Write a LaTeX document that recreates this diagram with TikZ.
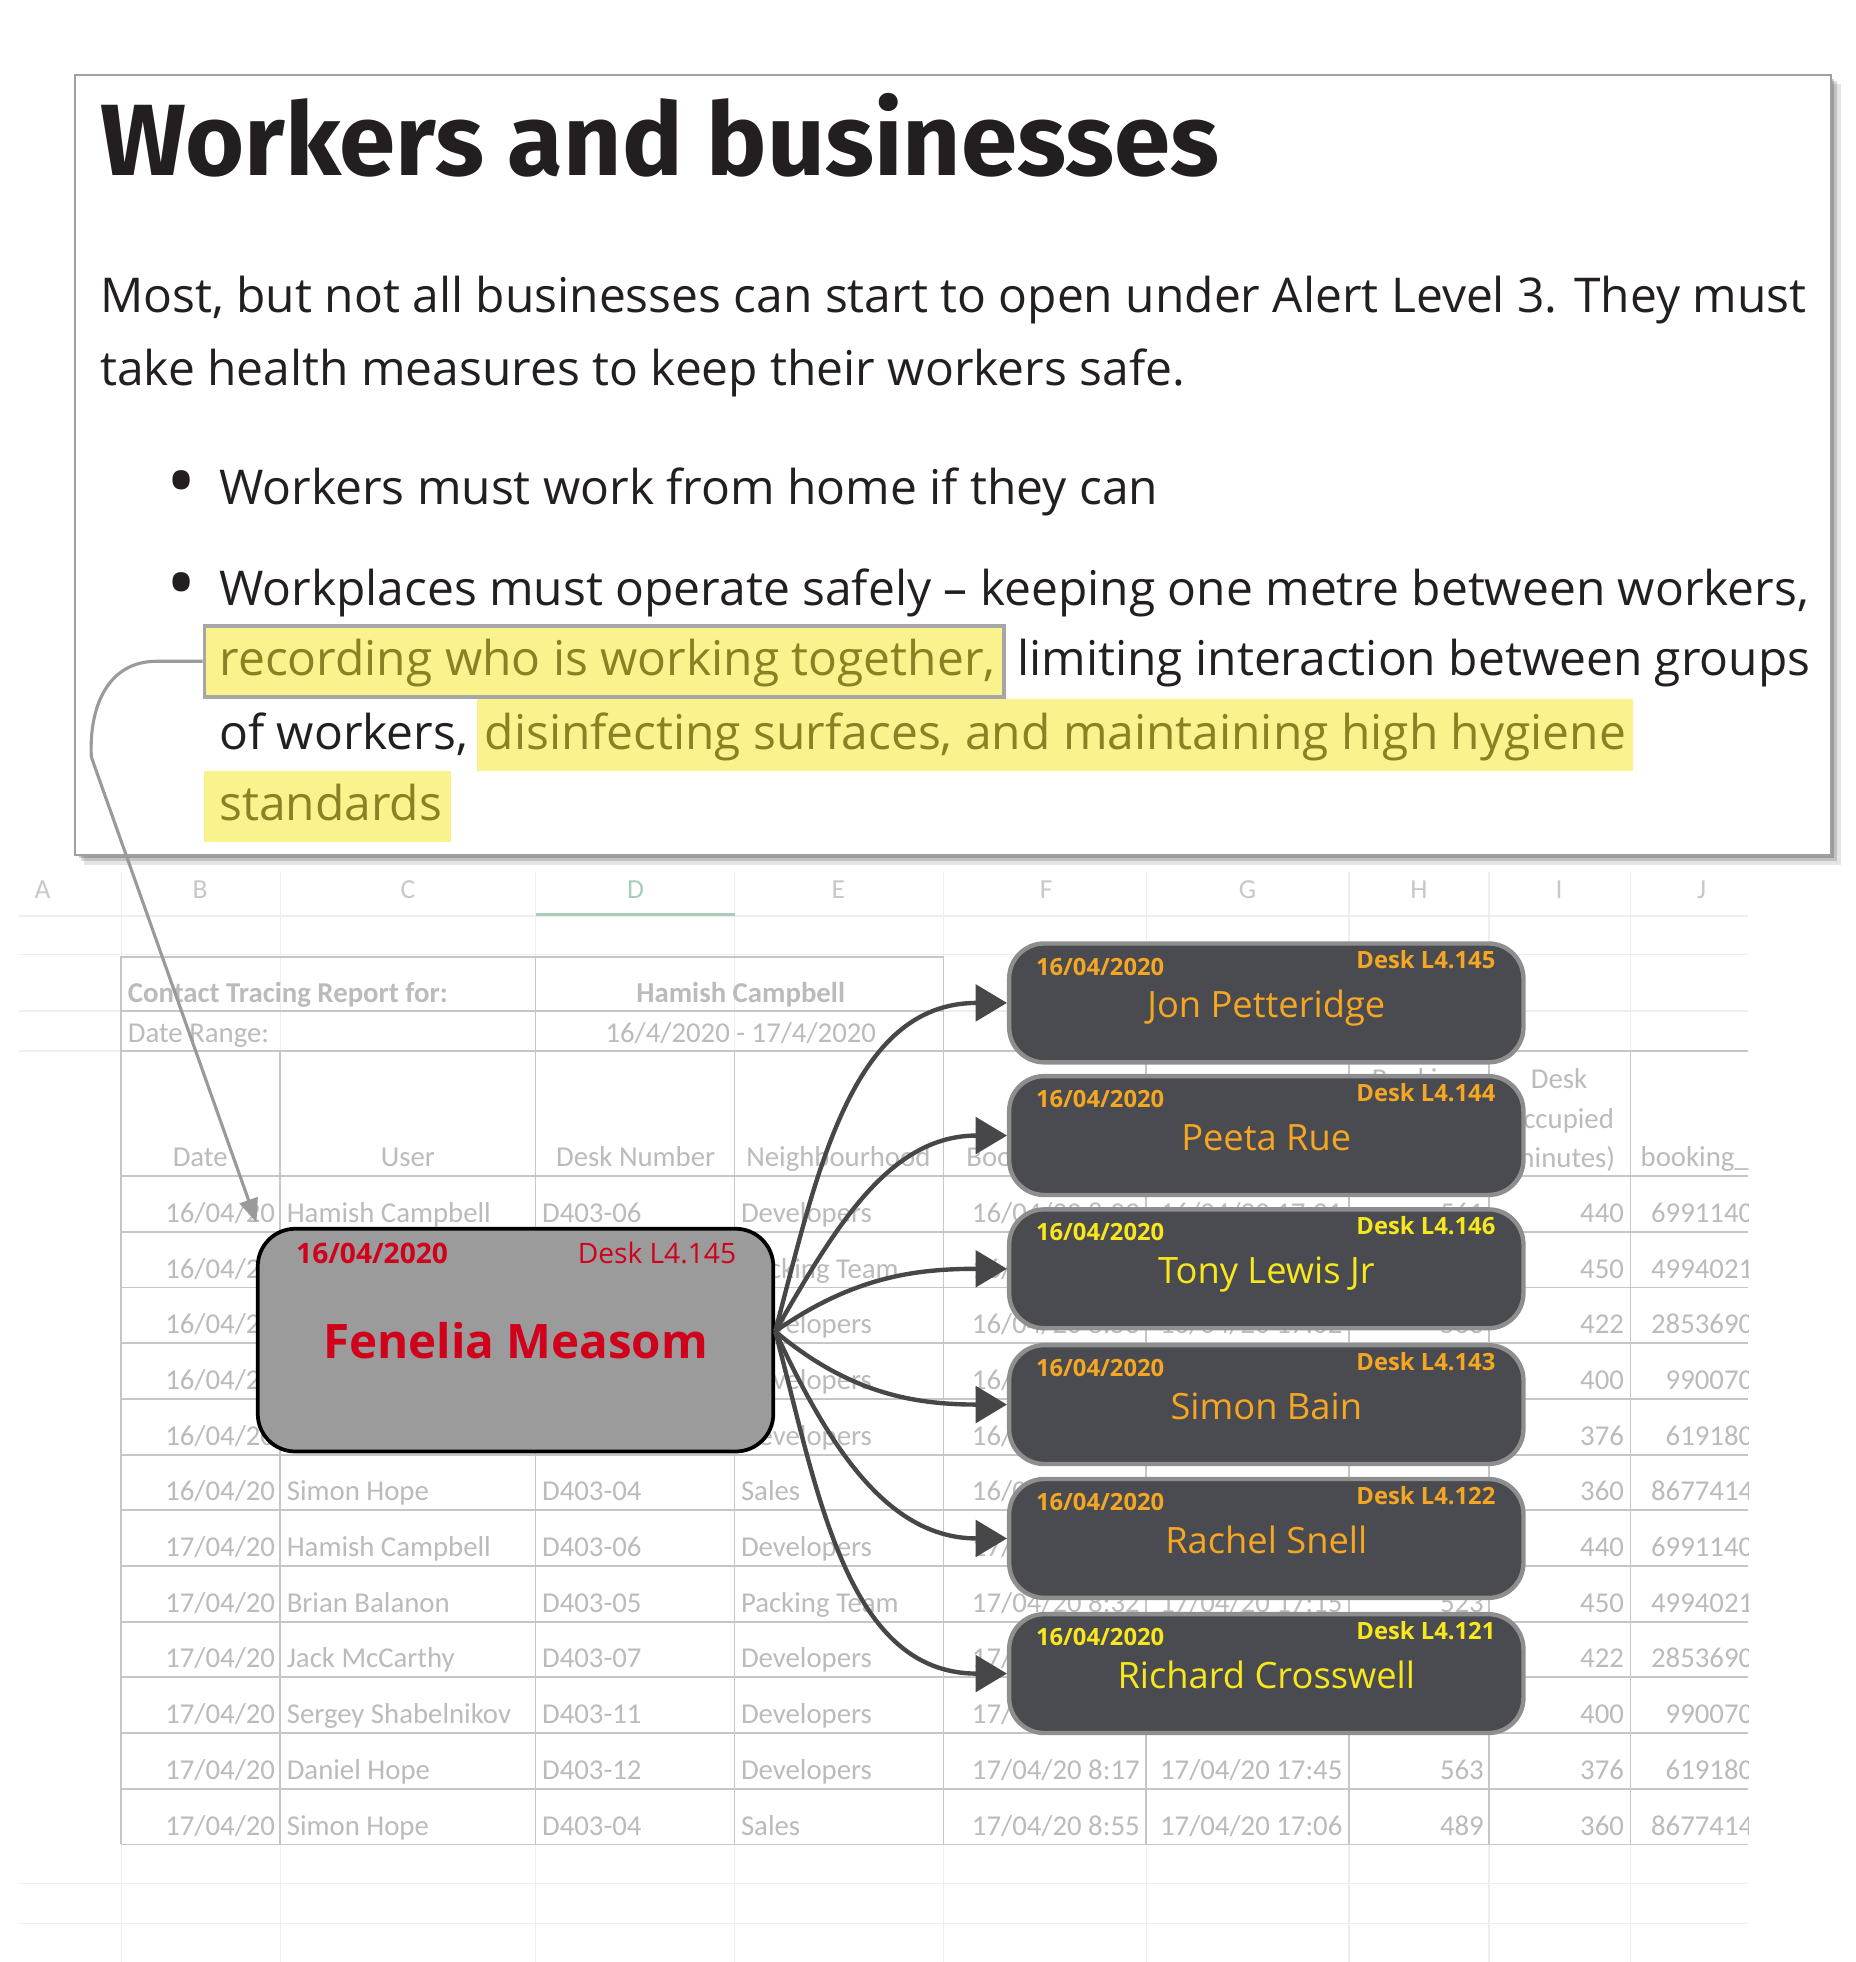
\documentclass[tikz,border=0pt]{standalone}
\usepackage{fontspec}
\setmainfont{Open Sans}
\newfontfamily\sheetfont{Carlito}
\newfontfamily\headfont{Fira Sans}
\usetikzlibrary{positioning, arrows.meta, calc}
\definecolor{ink}{HTML}{231F20}
\definecolor{framegrey}{HTML}{A0A0A0}
\definecolor{hiyellow}{HTML}{FAF28C}
\definecolor{hiolive}{HTML}{8A8024}
\definecolor{recgrey}{HTML}{A6A6A6}
\definecolor{sheetgrey}{HTML}{BBBBBB}
\definecolor{rulegrey}{HTML}{C6C6C6}
\definecolor{faintgrey}{HTML}{EEEEEE}
\definecolor{letgrey}{HTML}{C8C8C8}
\definecolor{selgreen}{HTML}{A8CDB9}
\definecolor{fengrey}{HTML}{9B9B9B}
\definecolor{fenred}{HTML}{D0021B}
\definecolor{slate}{HTML}{494B50}
\definecolor{edgegrey}{HTML}{8E8E8E}
\definecolor{amber}{HTML}{F5A623}
\definecolor{lemon}{HTML}{F8E71C}
\definecolor{arrowdark}{HTML}{47474A}
\definecolor{linkgrey}{HTML}{9A9A9A}

\begin{document}
\begin{tikzpicture}[x=1pt, y=-1pt,
  panel/.style={draw=framegrey, line width=1.5pt, fill=white,
                minimum width=1403pt, minimum height=623pt},
  body/.style={font=\fontsize{38.3}{46}\selectfont, text=ink, inner sep=0pt, anchor=base west},
  bullet/.style={font=\fontsize{64}{70}\selectfont, text=ink, inner sep=0pt},
  marker/.style={body, fill=hiyellow, text=hiolive, inner xsep=7pt, inner ysep=8pt,
                 text height=32pt, text depth=9pt},
  cell/.style={font=\sheetfont\fontsize{23}{27}\selectfont, text=sheetgrey, inner sep=0pt},
  colhead/.style={font=\sheetfont\fontsize{22}{26}\selectfont, text=letgrey, inner sep=0pt},
  faintrule/.style={draw=faintgrey, line width=1pt},
  sheetrule/.style={draw=rulegrey, line width=1.4pt},
  selfbox/.style={draw=black, line width=3pt, fill=fengrey, rounded corners=30pt,
                  minimum width=412pt, minimum height=178pt},
  contact/.style={draw=edgegrey, line width=3.5pt, fill=slate, rounded corners=28pt,
                  minimum width=411pt, minimum height=95pt},
  cdate/.style={font=\bfseries\fontsize{19}{22}\selectfont, inner sep=0pt},
  cname/.style={font=\fontsize{29}{34}\selectfont, inner sep=0pt, anchor=base},
  flow/.style={draw=arrowdark, line width=3.5pt, -{Triangle[length=25pt,width=29pt]}},
  link/.style={draw=linkgrey, line width=2.5pt, -{Triangle[length=19pt,width=15pt]}}
]
  \useasboundingbox (0,0) rectangle (1483,1568);
  \fill[white] (0,0) rectangle (1483,1568);

  % spreadsheet grid
  \foreach \x in {97,224,428,587,754,916,1078,1190,1303}
    \draw[faintrule] (\x,697) -- (\x,1568);
  \foreach \y in {732,763,808,840,1505,1537}
    \draw[faintrule] (15,\y) -- (1397,\y);
  \foreach \c/\x in {A/34,B/160,C/326,E/670,F/836,G/997,H/1134,I/1246,J/1360}
    \node[colhead] (col\c) at (\x,711) {\c};
  \node[colhead, text=selgreen] (colD) at (508,711) {D};
  \draw[selgreen, line width=2pt] (428,731) -- (587,731);

  \draw[sheetrule] (97,765) rectangle (754,840);
  \draw[sheetrule] (97,808) -- (754,808);
  \draw[sheetrule] (428,765) -- (428,840);
  \foreach \y in {840,940,984.5,1029,1073.5,1118,1162.5,1207,1251.5,1296,1340.5,1385,1429.5,1474}
    \draw[sheetrule] (97,\y) -- (1397,\y);
  \foreach \x in {97,224,428,587,754,916,1078,1190,1303}
    \draw[sheetrule] (\x,840) -- (\x,1474);

  \node[cell, font=\sheetfont\bfseries\fontsize{23}{27}\selectfont, anchor=base west] (reportfor) at (102,801) {Contact Tracing Report for:};
  \node[cell, font=\sheetfont\bfseries\fontsize{23}{27}\selectfont, anchor=base] (reportwho) at (592,801) {Hamish Campbell};
  \node[cell, anchor=base west] (rangelabel) at (102,833) {Date Range:};
  \node[cell, anchor=base] (rangeval) at (592,833) {16/4/2020 - 17/4/2020};

  \node[cell, anchor=base] (hdate) at (160,932) {Date};
  \node[cell, anchor=base] (huser) at (326,932) {User};
  \node[cell, anchor=base] (hdesk) at (508,932) {Desk Number};
  \node[cell, anchor=base] (hteam) at (670,932) {Neighbourhood};
  \node[cell, anchor=base] (hstart) at (835,932) {Booking Start};
  \node[cell, anchor=base] (hbook) at (1134,870) {Booking};
  \node[cell, anchor=base] (hocc1) at (1246,870) {Desk};
  \node[cell, anchor=base] (hocc2) at (1246,902) {Occupied};
  \node[cell, anchor=base] (hocc3) at (1246,933) {(minutes)};

  % \seen: 1 = columns G/H show between the boxes, \open: 1 = user/desk not under the grey box
  \foreach \r/\d/\who/\desk/\team/\ts/\te/\bm/\occ/\seen/\open in {
      1/16/Hamish Campbell/D403-06/Developers/8:09/17:21/561/440/1/1,
      2/16/Brian Balanon/D403-05/Packing Team/8:32/17:15/523/450/0/0,
      3/16/Jack McCarthy/D403-07/Developers/8:53/17:02/563/422/1/0,
      4/16/Sergey Shabelnikov/D403-11/Developers/8:41/17:30/529/400/0/0,
      5/16/Daniel Hope/D403-12/Developers/8:17/17:45/563/376/0/0,
      6/16/Simon Hope/D403-04/Sales/8:55/17:06/489/360/0/1,
      7/17/Hamish Campbell/D403-06/Developers/8:09/17:21/561/440/0/1,
      8/17/Brian Balanon/D403-05/Packing Team/8:32/17:15/523/450/1/1,
      9/17/Jack McCarthy/D403-07/Developers/8:53/17:02/563/422/0/1,
      10/17/Sergey Shabelnikov/D403-11/Developers/8:41/17:30/529/400/0/1,
      11/17/Daniel Hope/D403-12/Developers/8:17/17:45/563/376/1/1,
      12/17/Simon Hope/D403-04/Sales/8:55/17:06/489/360/1/1} {
    \pgfmathsetmacro\yb{977+44.5*(\r-1)}
    \node[cell, anchor=base east] (date\r) at (220,\yb) {\d/04/20};
    \ifnum\open=1
      \node[cell, anchor=base west] (user\r) at (229,\yb) {\who};
      \node[cell, anchor=base west] (desk\r) at (433,\yb) {\desk};
    \fi
    \node[cell, anchor=base west] (team\r) at (592,\yb) {\team};
    \node[cell, anchor=base east] (start\r) at (911,\yb) {\d/04/20 \ts};
    \ifnum\seen=1
      \node[cell, anchor=base east] (end\r) at (1073,\yb) {\d/04/20 \te};
      \node[cell, anchor=base east] (mins\r) at (1186,\yb) {\bm};
    \fi
    \node[cell, anchor=base east] (occ\r) at (1298,\yb) {\occ};
  }
  \begin{scope}
    \clip (1303,840) rectangle (1397,1474);
    \node[cell, anchor=base west] (hbid) at (1311,932) {booking\_id};
    \foreach \r/\bid in {1/69911401,2/49940213,3/28536902,4/9900705,5/6191806,6/86774142,
                         7/69911401,8/49940213,9/28536902,10/9900705,11/6191806,12/86774142} {
      \pgfmathsetmacro\yb{977+44.5*(\r-1)}
      \node[cell, anchor=base east] (bid\r) at (1413,\yb) {\bid};
    }
  \end{scope}

  % article panel
  \fill[black, opacity=.10] (67,67) rectangle (1471,691);
  \fill[black, opacity=.15] (65,65) rectangle (1468,688);
  \fill[black, opacity=.20] (63,63) rectangle (1466,686);
  \node[panel] (panel) at (761.5,371.5) {};
  \node[font=\headfont\bfseries\fontsize{81}{90}\selectfont, text=ink, inner sep=0pt, anchor=base west]
    (title) at (80,140) {Workers and businesses};
  \node[body] (p1) at (80,250) {Most, but not all businesses can start to open under Alert Level 3. They must};
  \node[body] (p2) at (80,308) {take health measures to keep their workers safe.};
  \node[bullet] (dot1) at (145,392) {•};
  \node[body] (b1) at (175,403) {Workers must work from home if they can};
  \node[bullet] (dot2) at (145,473) {•};
  \node[body] (b2) at (175,484) {Workplaces must operate safely – keeping one metre between workers,};
  \node[marker, draw=recgrey, line width=3pt] (rec) at (162,540) {\hspace*{5pt}recording who is working together,};
  \node[body, base right=9pt of rec] (limit) {limiting interaction between groups};
  \node[body] (ofw) at (175,599) {of workers,};
  \node[marker, inner xsep=6pt, base right=7pt of ofw] (dis) {disinfecting surfaces, and maintaining high hygiene\hspace{22pt}};
  \node[marker] (stand) at (163,656) {\hspace*{5pt}standards\hspace{8pt}};

  % the person traced
  \node[selfbox] (fen) at (412,1071) {};
  \node[font=\bfseries\fontsize{22.5}{26}\selectfont, text=fenred, inner sep=0pt, anchor=base west]
    (fendate) at ($(fen.north west)+(32,29)$) {16/04/2020};
  \node[font=\fontsize{22.5}{26}\selectfont, text=fenred, inner sep=0pt, anchor=base east]
    (fendesk) at ($(fen.north east)+(-31,29)$) {Desk L4.145};
  \node[font=\bfseries\fontsize{38}{44}\selectfont, text=fenred, inner sep=0pt, anchor=base]
    (fenname) at ($(fen.center)+(0,15)$) {Fenelia Measom};

  % contacts
  \foreach \id/\yc/\desk/\who/\tint in {
      jon/801.5/L4.145/Jon Petteridge/amber,
      peeta/907.5/L4.144/Peeta Rue/amber,
      tony/1014/L4.146/Tony Lewis Jr/lemon,
      simon/1122.5/L4.143/Simon Bain/amber,
      rachel/1229.5/L4.122/Rachel Snell/amber,
      richard/1337.5/L4.121/Richard Crosswell/lemon} {
    \node[contact] (\id) at (1012,\yc) {};
    \node[cdate, text=\tint, anchor=base west] (\id date) at ($(\id.north west)+(23,27)$) {16/04/2020};
    \node[cdate, text=\tint, anchor=base east] (\id desk) at ($(\id.north east)+(-24,22)$) {Desk \desk};
    \node[cname, text=\tint] (\id name) at ($(\id.north)+(0,61)$) {\who};
  }

  \coordinate (hub) at ($(fen.east)+(0,-7)$);
  \draw[flow] (hub) to[out=75,in=180] (jon.west);
  \draw[flow] (hub) to[out=60,in=180] (peeta.west);
  \draw[flow] (hub) to[out=35,in=180] (tony.west);
  \draw[flow] (hub) to[out=-40,in=180] (simon.west);
  \draw[flow] (hub) to[out=-65,in=180] (rachel.west);
  \draw[flow] (hub) to[out=-75,in=180] (richard.west);

  \coordinate (rowtip) at (205,977);
  \draw[link] (rec.west) -- (125,528.5) .. controls (86,528.5) and (71,565) .. (73,605) -- (rowtip);
\end{tikzpicture}
\end{document}
